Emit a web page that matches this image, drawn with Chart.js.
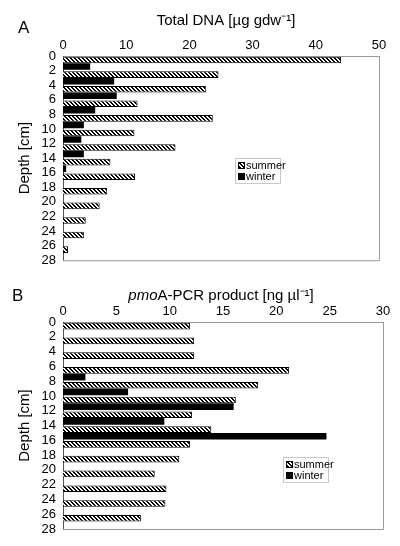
<!DOCTYPE html>
<html>
<head>
<meta charset="utf-8">
<script src="https://cdn.jsdelivr.net/npm/chart.js@4"></script>
<style>
  body { margin: 0; background: #fff; }
  canvas { display: block; }
</style>
</head>
<body>
<canvas id="chart-a" width="400" height="275"></canvas>
<canvas id="chart-b" width="400" height="271"></canvas>
<script>
// Depth bins (top of each 2 cm layer) and tick labels
var depths = [0, 2, 4, 6, 8, 10, 12, 14, 16, 18, 20, 22, 24, 26];
var depthTicks = [0, 2, 4, 6, 8, 10, 12, 14, 16, 18, 20, 22, 24, 26, 28];

// Panel A: total DNA [ug gdw-1]
var dnaSummer = [44.0, 24.6, 22.6, 11.8, 23.7, 11.3, 17.8, 7.5, 11.4, 7.0, 5.8, 3.6, 3.3, 0.8];
var dnaWinter = [4.3, 8.1, 8.5, 5.1, 3.3, 2.9, 3.3, 0.5, null, null, null, null, null, null];

// Panel B: pmoA-PCR product [ng ul-1]
var pcrSummer = [11.9, 12.3, 12.3, 21.2, 18.3, 16.2, 12.1, 13.9, 11.9, 10.9, 8.6, 9.7, 9.6, 7.3];
var pcrWinter = [null, null, null, 2.1, 6.1, 16.0, 9.5, 24.7, null, null, null, null, null, null];

var FONT = "'Liberation Sans', Arial, sans-serif";

// diagonal hatch used for the summer bars, pixel-exact so it stays crisp
function hatch() {
  var c = document.createElement("canvas");
  c.width = 4;
  c.height = 4;
  var g = c.getContext("2d");
  g.fillStyle = "#fff";
  g.fillRect(0, 0, 4, 4);
  g.fillStyle = "#000";
  for (var y = 0; y < 4; y++) {
    for (var x = 0; x < 4; x++) {
      if ((x - y + 8) % 4 < 2) g.fillRect(x, y, 1, 1);
    }
  }
  return g.createPattern(c, "repeat");
}
var summerFill = hatch();

function points(values) {
  // bar sits in the middle of its 2 cm layer
  return depths.map(function (d, i) { return { x: values[i], y: d + 1 }; });
}

// frame, titles and the inner legend
var decor = {
  id: "decor",
  afterDraw: function (chart) {
    var o = chart.options.plugins.decor;
    var ctx = chart.ctx;
    var a = chart.chartArea;
    ctx.save();
    ctx.strokeStyle = "#9a9a9a";
    ctx.lineWidth = 1;
    ctx.beginPath();
    ctx.moveTo(a.right + 0.5, a.top);
    ctx.lineTo(a.right + 0.5, a.bottom + 0.5);
    ctx.lineTo(a.left, a.bottom + 0.5);
    ctx.stroke();

    // panel letter
    ctx.fillStyle = "#000";
    ctx.textBaseline = "middle";
    ctx.textAlign = "left";
    ctx.font = "17px " + FONT;
    ctx.fillText(o.letter, o.letterX, o.letterY);

    // title, pieces may be italic
    var w = 0;
    o.title.forEach(function (p) {
      ctx.font = (p.italic ? "italic " : "") + "15px " + FONT;
      w += ctx.measureText(p.text).width;
    });
    var x = o.titleX - w / 2;
    o.title.forEach(function (p) {
      ctx.font = (p.italic ? "italic " : "") + "15px " + FONT;
      ctx.fillText(p.text, x, o.titleY);
      x += ctx.measureText(p.text).width;
    });

    // legend box
    var lx = o.legendX, ly = o.legendY;
    ctx.strokeStyle = "#c8c8c8";
    ctx.strokeRect(lx + 0.5, ly + 0.5, 45, 25);
    ctx.font = "11px " + FONT;
    ctx.fillStyle = summerFill;
    ctx.fillRect(lx + 3, ly + 4, 7, 7);
    ctx.strokeStyle = "#000";
    ctx.strokeRect(lx + 3.5, ly + 4.5, 6, 6);
    ctx.fillStyle = "#000";
    ctx.fillRect(lx + 3, ly + 15, 7, 7);
    ctx.fillText("summer", lx + 11, ly + 8);
    ctx.fillText("winter", lx + 11, ly + 19);
    ctx.restore();
  }
};

function makePanel(id, summer, winter, xMax, xStep, cfg) {
  return new Chart(document.getElementById(id), {
    type: "bar",
    data: {
      datasets: [
        {
          label: "summer",
          data: points(summer),
          backgroundColor: summerFill,
          borderColor: "#000",
          borderWidth: 1
        },
        {
          label: "winter",
          data: points(winter),
          backgroundColor: "#000",
          borderColor: "#000",
          borderWidth: 0
        }
      ]
    },
    options: {
      indexAxis: "y",
      responsive: false,
      animation: false,
      categoryPercentage: 0.9,
      barPercentage: 1,
      layout: { padding: { top: 0, left: 0, right: cfg.padRight, bottom: cfg.padBottom } },
      scales: {
        x: {
          type: "linear",
          position: "top",
          min: 0,
          max: xMax,
          afterFit: function (s) { s.height = cfg.topHeight; },
          ticks: { stepSize: xStep, color: "#000", padding: 3, font: { family: FONT, size: 13 } },
          grid: { display: false, drawTicks: false },
          border: { display: true, color: "#9a9a9a" }
        },
        y: {
          type: "linear",
          reverse: true,
          offset: false,
          min: 0,
          max: 28,
          afterFit: function (s) { s.width = 63; },
          afterBuildTicks: function (s) {
            s.ticks = depthTicks.map(function (v) { return { value: v }; });
          },
          ticks: { color: "#000", padding: 7, autoSkip: false, font: { family: FONT, size: 13 } },
          grid: { display: false, drawTicks: false },
          border: { display: true, color: "#555" },
          title: {
            display: true,
            text: "Depth [cm]",
            color: "#000",
            padding: { top: 16, bottom: 0 },
            font: { family: FONT, size: 15 }
          }
        }
      },
      plugins: {
        legend: { display: false },
        tooltip: { enabled: false },
        decor: cfg.decor
      }
    },
    plugins: [decor]
  });
}

makePanel("chart-a", dnaSummer, dnaWinter, 50, 10, {
  padRight: 21,
  padBottom: 10,
  topHeight: 56,
  decor: {
    letter: "A", letterX: 18, letterY: 28,
    title: [{ text: "Total DNA [µg gdw⁻¹]" }],
    titleX: 226, titleY: 21,
    legendX: 235, legendY: 158
  }
});

makePanel("chart-b", pcrSummer, pcrWinter, 30, 5, {
  padRight: 17,
  padBottom: 17,
  topHeight: 47,
  decor: {
    letter: "B", letterX: 12, letterY: 21,
    title: [{ text: "pmo", italic: true }, { text: "A-PCR product [ng µl⁻¹]" }],
    titleX: 221, titleY: 21,
    legendX: 283, legendY: 182
  }
});
</script>
</body>
</html>
